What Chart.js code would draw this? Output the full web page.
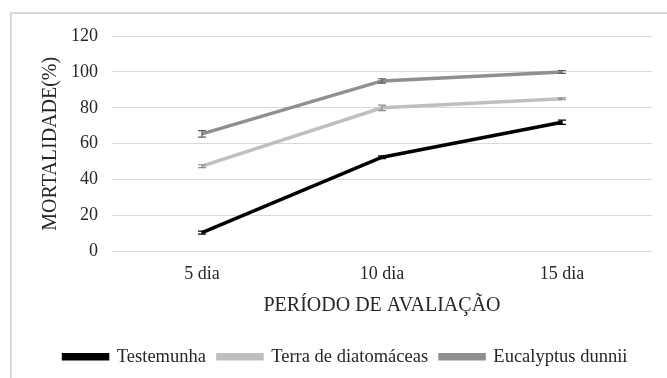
<!DOCTYPE html>
<html>
<head>
<meta charset="utf-8">
<script src="https://cdn.jsdelivr.net/npm/chart.js@4/dist/chart.umd.min.js"></script>
<style>
  html, body { margin: 0; padding: 0; background: #fff; }
  #box { position: relative; width: 667px; height: 378px; }
</style>
</head>
<body>
<div id="box"><canvas id="chart"></canvas></div>
<script>
const periods = ['5 dia', '10 dia', '15 dia'];
const testemunha = [10.5, 52.5, 72];
const terraDiatomaceas = [47.5, 80, 85];
const eucalyptusDunnii = [65.5, 95, 100];
// small error bars (±)
const errTestemunha = [0.8, 0.8, 1.2];
const errTerra = [0.8, 1.5, 0.5];
const errEucalyptus = [1.8, 1.2, 0.8];

const serif = "'Liberation Serif', 'Times New Roman', serif";
Chart.defaults.font.family = serif;
Chart.defaults.color = '#262626';

const grid = '#d9d9d9';

// outer frame of the figure
const frame = {
  id: 'frame',
  beforeDraw(chart) {
    const ctx = chart.ctx;
    ctx.save();
    ctx.strokeStyle = '#d9d9d9';
    ctx.lineWidth = 2;
    ctx.beginPath();
    ctx.moveTo(11, chart.height + 5);
    ctx.lineTo(11, 13);
    ctx.lineTo(chart.width + 5, 13);
    ctx.stroke();
    ctx.restore();
  }
};

// error bars from the err arrays
const errorBars = {
  id: 'errorBars',
  afterDatasetsDraw(chart) {
    const ctx = chart.ctx;
    const y = chart.scales.y;
    chart.data.datasets.forEach((ds, i) => {
      const meta = chart.getDatasetMeta(i);
      ctx.save();
      ctx.strokeStyle = ds.errColor;
      ctx.lineWidth = 1.2;
      meta.data.forEach((pt, j) => {
        const v = ds.data[j], e = ds.err[j];
        const top = y.getPixelForValue(v + e), bot = y.getPixelForValue(v - e);
        ctx.beginPath();
        ctx.moveTo(pt.x, top); ctx.lineTo(pt.x, bot);
        ctx.moveTo(pt.x - 4, top); ctx.lineTo(pt.x + 4, top);
        ctx.moveTo(pt.x - 4, bot); ctx.lineTo(pt.x + 4, bot);
        ctx.stroke();
      });
      ctx.restore();
    });
  }
};

new Chart(document.getElementById('chart'), {
  type: 'line',
  data: {
    labels: periods,
    datasets: [
      { label: 'Testemunha', data: testemunha, err: errTestemunha, errColor: '#000000',
        borderColor: '#000000', backgroundColor: '#000000' },
      { label: 'Terra de diatomáceas', data: terraDiatomaceas, err: errTerra, errColor: '#8c8c8c',
        borderColor: '#bfbfbf', backgroundColor: '#bfbfbf' },
      { label: 'Eucalyptus dunnii', data: eucalyptusDunnii, err: errEucalyptus, errColor: '#5a5a5a',
        borderColor: '#8f8f8f', backgroundColor: '#8f8f8f' }
    ].map(d => ({ ...d, borderWidth: 3.5, pointRadius: 0, tension: 0 }))
  },
  options: {
    responsive: true,
    maintainAspectRatio: false,
    animation: false,
    layout: { padding: { top: 36, right: 15, bottom: 2, left: 39 } },
    plugins: {
      tooltip: { enabled: false },
      legend: {
        position: 'bottom',
        labels: {
          boxWidth: 44,
          boxHeight: 4,
          padding: 12,
          color: '#262626',
          font: { size: 18.5 }
        }
      }
    },
    scales: {
      x: {
        offset: true,
        grid: { display: false },
        border: { display: false },
        ticks: { font: { size: 18 }, padding: 4 },
        title: { display: true, text: 'PERÍODO DE AVALIAÇÃO', font: { size: 20 }, padding: { top: 4, bottom: 18 } },
        afterFit(s) { s.height = 84; }
      },
      y: {
        min: 0,
        max: 120,
        ticks: { stepSize: 20, font: { size: 18 }, padding: 14 },
        grid: { color: grid, lineWidth: 1, drawTicks: false },
        border: { display: false },
        title: { display: true, text: 'MORTALIDADE(%)', font: { size: 20 }, padding: { top: 0, bottom: 0 } },
        afterFit(s) { s.width = 73; }
      }
    }
  },
  plugins: [frame, errorBars]
});
</script>
</body>
</html>
